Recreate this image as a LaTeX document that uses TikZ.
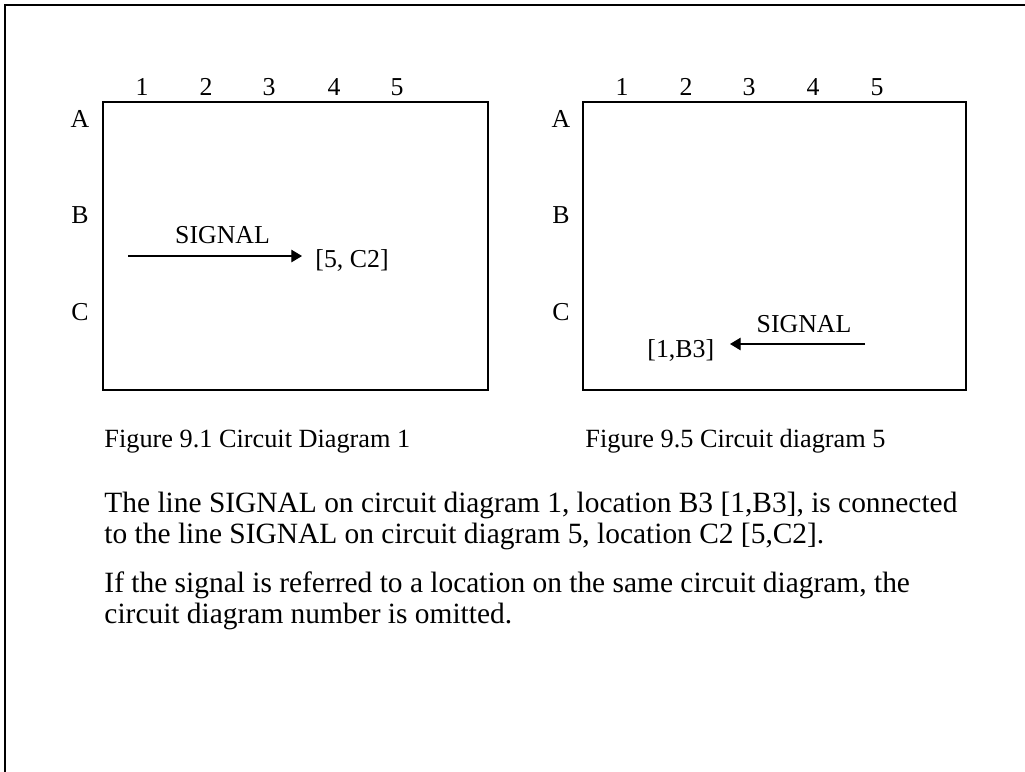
\documentclass[tikz,border=0pt]{standalone}
\usepackage{fontspec}
\setmainfont{Liberation Serif}
\usetikzlibrary{arrows.meta}
\tikzset{
  frameline/.style={line width=1pt, line cap=rect},
  cbox/.style={line width=0.95pt},
  lbl/.style={inner sep=0pt, anchor=base, font=\fontsize{11.1}{13}\selectfont},
  lblw/.style={inner sep=0pt, anchor=base west, font=\fontsize{11.1}{13}\selectfont},
  capt/.style={inner sep=0pt, anchor=base west, font=\fontsize{11.3}{13}\selectfont},
  body/.style={inner sep=0pt, anchor=base west, font=\fontsize{12.65}{14}\selectfont},
  sig/.style={line width=0.45pt, -{Triangle[length=4.6pt,width=5.4pt]}}
}
\begin{document}
\begin{tikzpicture}[x=0.43pt,y=-0.43pt]
\useasboundingbox (0,0) rectangle (1025,771);
% outer frame (top and left only)
\coordinate (fbl) at (5,771);
\coordinate (ftl) at (5,5);
\coordinate (ftr) at (1025,5);
\draw[frameline] (fbl) -- (ftl) -- (ftr);
% box 1
\draw[cbox] (103,102) rectangle (488,390);
\foreach \n/\x in {1/142,2/206,3/269,4/334,5/397}
  \node[lbl] (ac\n) at (\x,95) {\n};
\foreach \r/\y in {A/127,B/223,C/320}
  \node[lbl] (ar\r) at (80,\y) {\r};
\node[lbl] (asig) at (222.5,243) {SIGNAL};
\node[lblw] (aref) at (315,267) {[5, C2]};
\coordinate (as) at (128,256);
\coordinate (ae) at (302,256);
\draw[sig] (as) -- (ae);
% box 2
\draw[cbox] (583,102) rectangle (966,390);
\foreach \n/\x in {1/622,2/686,3/749,4/813,5/877}
  \node[lbl] (bc\n) at (\x,95) {\n};
\foreach \r/\y in {A/127,B/223,C/320}
  \node[lbl] (br\r) at (561,\y) {\r};
\node[lbl] (bsig) at (804,332) {SIGNAL};
\node[lblw] (bref) at (647,357) {[1,B3]};
\coordinate (bs) at (865,344);
\coordinate (be) at (730,344);
\draw[sig] (bs) -- (be);
% captions
\node[capt] (cap1) at (104,447) {Figure 9.1 Circuit Diagram 1};
\node[capt] (cap2) at (585,447) {Figure 9.5 Circuit diagram 5};
% body text
\node[body] (t1) at (104,512) {The line SIGNAL on circuit diagram 1, location B3 [1,B3], is connected};
\node[body] (t2) at (104,543) {to the line SIGNAL on circuit diagram 5, location C2 [5,C2].};
\node[body] (t3) at (104,592) {If the signal is referred to a location on the same circuit diagram, the};
\node[body] (t4) at (104,623) {circuit diagram number is omitted.};
\end{tikzpicture}
\end{document}
